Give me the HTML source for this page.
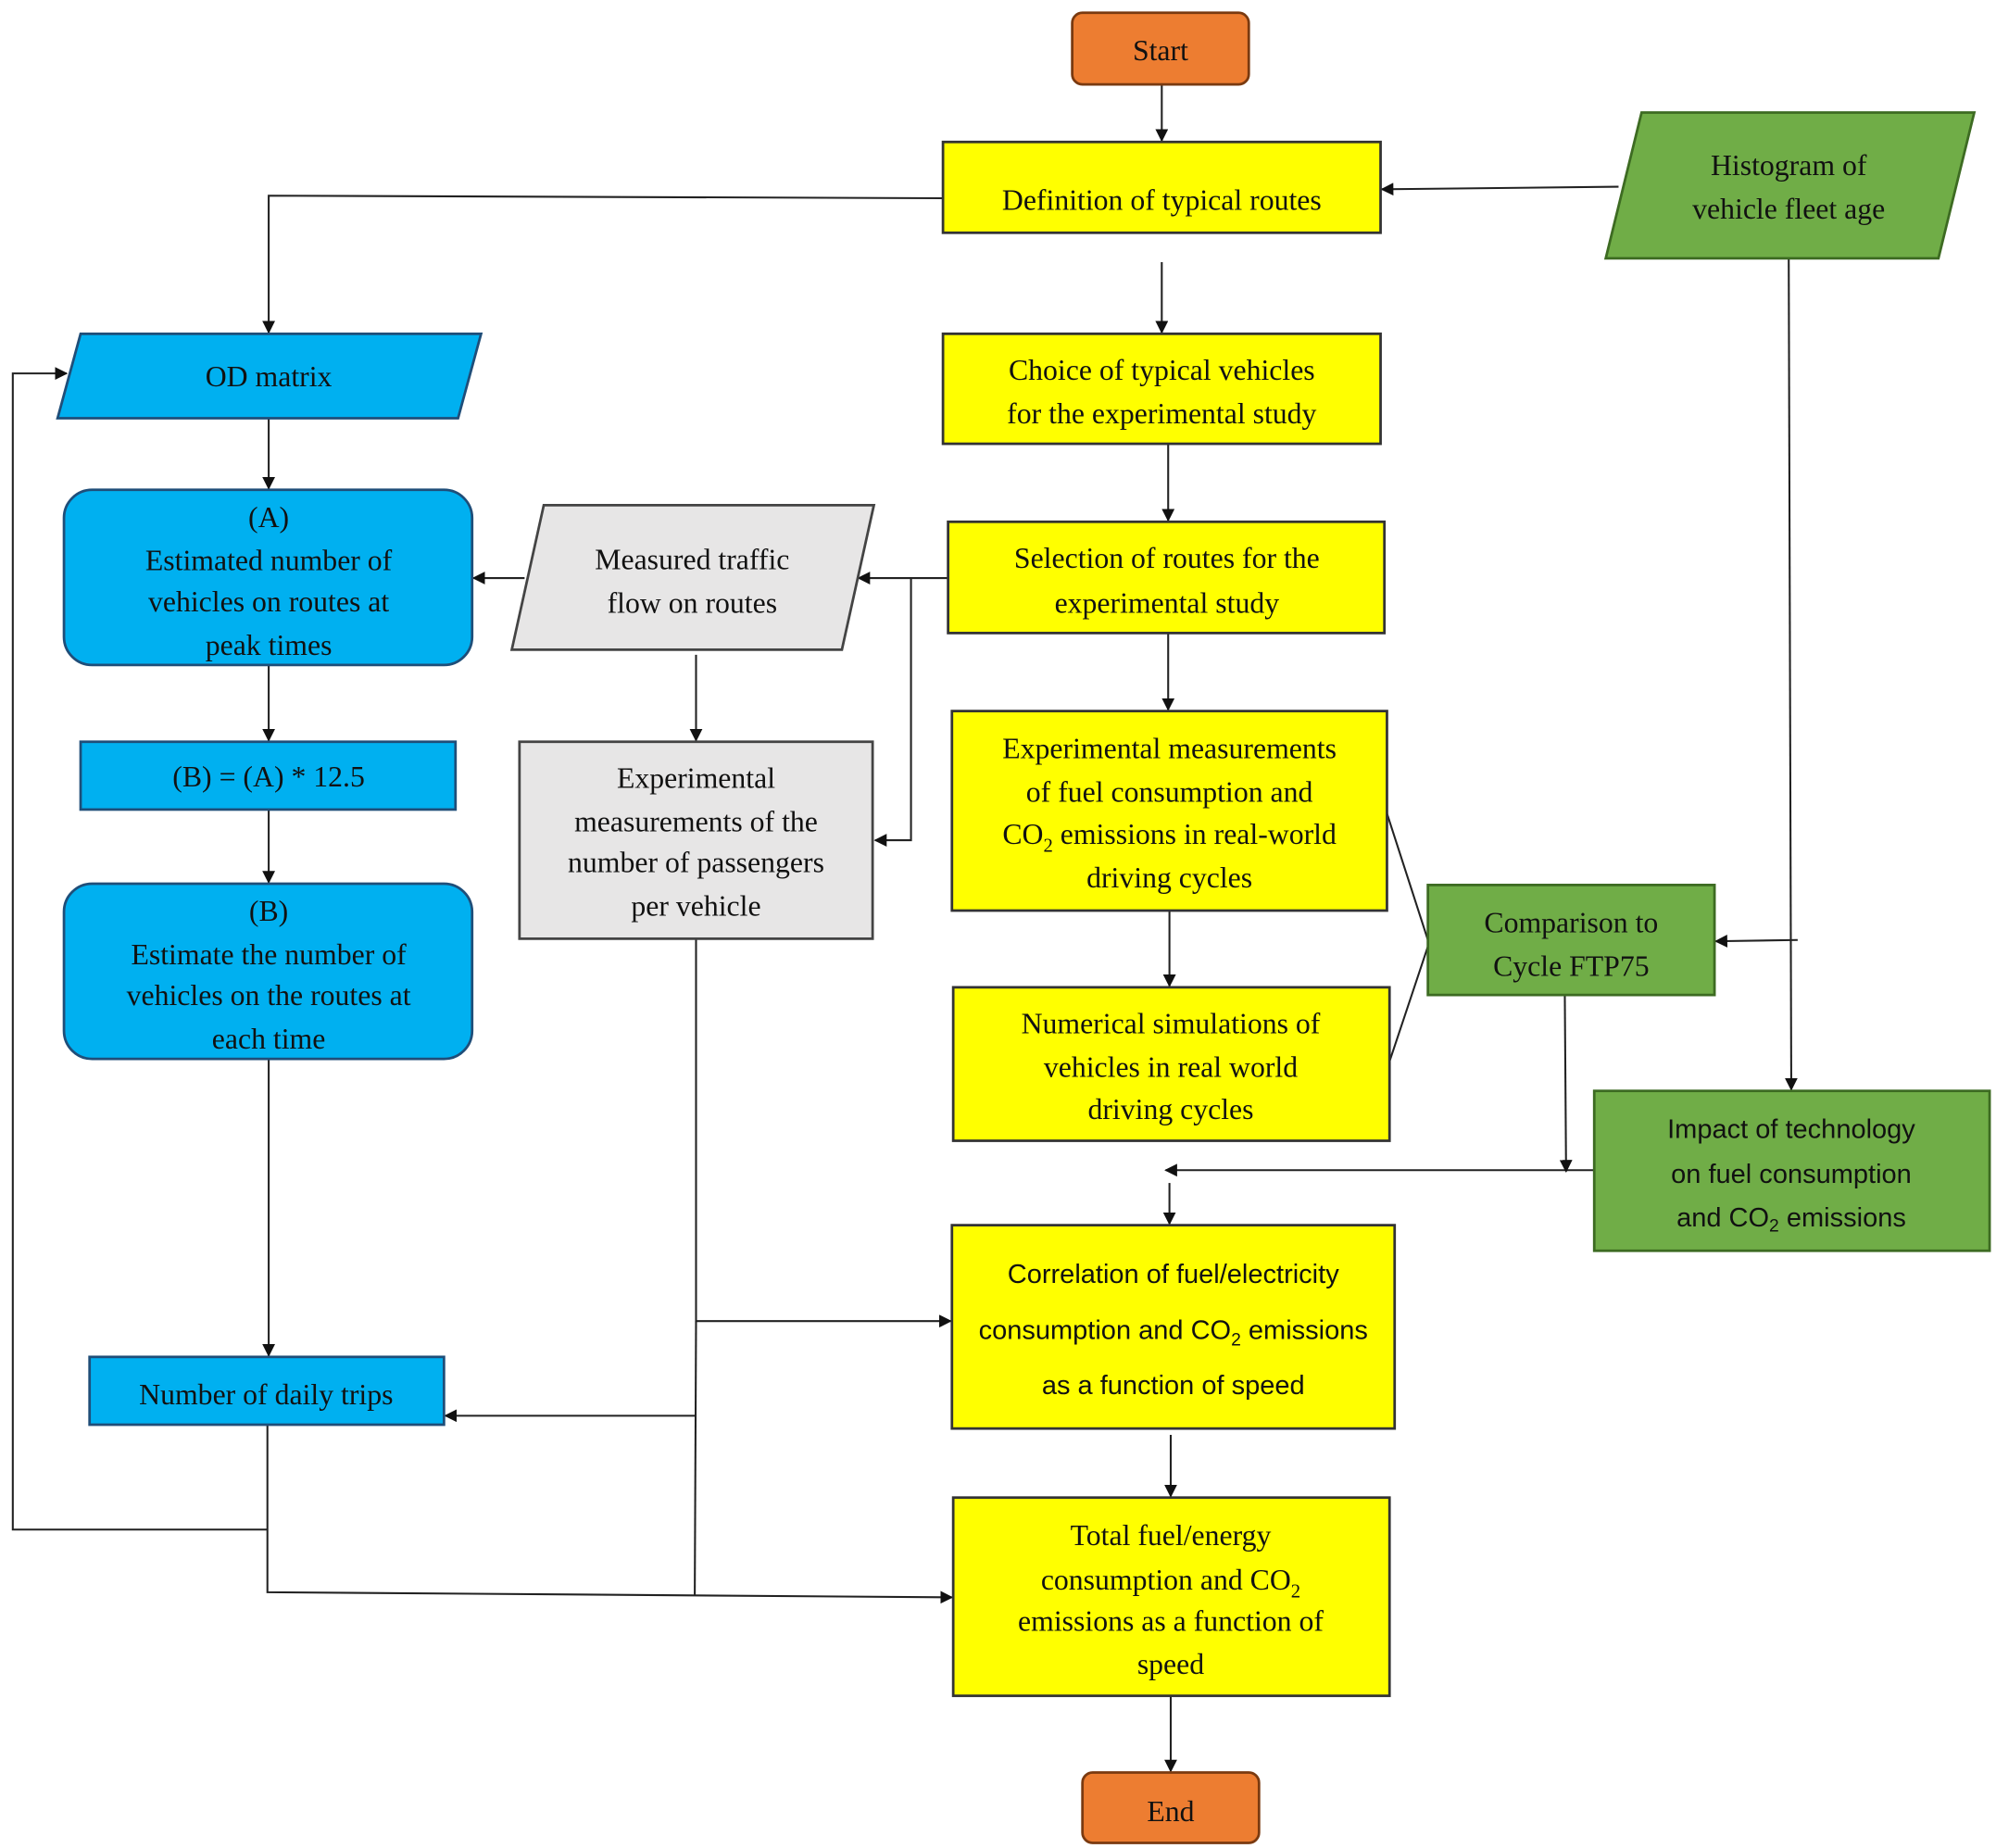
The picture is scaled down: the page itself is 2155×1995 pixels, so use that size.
<!DOCTYPE html>
<html><head><meta charset="utf-8"><style>
html,body{margin:0;padding:0;background:#fff;}
svg{display:block;}
text{font-family:"Liberation Serif",serif;font-size:23px;fill:#111;text-anchor:middle;}
.s{font-family:"Liberation Sans",sans-serif;font-size:21px;}
</style></head><body>
<svg width="2155" height="1995" viewBox="0 0 1560 1445" preserveAspectRatio="none" xmlns="http://www.w3.org/2000/svg">
<defs><marker id="a" markerWidth="10" markerHeight="10" refX="9" refY="5" orient="auto" markerUnits="userSpaceOnUse"><path d="M0,0 L10,5 L0,10 z" fill="#111"/></marker></defs>
<g stroke="#222" stroke-width="1.5" fill="none">
<line x1="908" y1="66" x2="908" y2="110" marker-end="url(#a)"/>
<polyline points="737,155 210,153 210,260" marker-end="url(#a)"/>
<line x1="1265" y1="146" x2="1080" y2="148" marker-end="url(#a)"/>
<line x1="908" y1="205" x2="908" y2="260" marker-end="url(#a)"/>
<line x1="913" y1="347" x2="913" y2="407" marker-end="url(#a)"/>
<line x1="741" y1="452" x2="671" y2="452" marker-end="url(#a)"/>
<polyline points="712,452 712,657 684,657" marker-end="url(#a)"/>
<line x1="410" y1="452" x2="370" y2="452" marker-end="url(#a)"/>
<line x1="544" y1="512" x2="544" y2="579" marker-end="url(#a)"/>
<line x1="913" y1="495" x2="913" y2="555" marker-end="url(#a)"/>
<line x1="914" y1="712" x2="914" y2="771" marker-end="url(#a)"/>
<line x1="1246" y1="915" x2="911" y2="915" marker-end="url(#a)"/>
<line x1="914" y1="925" x2="914" y2="957" marker-end="url(#a)"/>
<line x1="1084" y1="636" x2="1116" y2="735"/>
<line x1="1086" y1="830" x2="1116" y2="740"/>
<line x1="1398" y1="202" x2="1400" y2="852" marker-end="url(#a)"/>
<line x1="1405" y1="735" x2="1341" y2="736" marker-end="url(#a)"/>
<line x1="1223" y1="778" x2="1224" y2="916" marker-end="url(#a)"/>
<line x1="915" y1="1122" x2="915" y2="1170" marker-end="url(#a)"/>
<line x1="915" y1="1326" x2="915" y2="1385" marker-end="url(#a)"/>
<line x1="210" y1="327" x2="210" y2="382" marker-end="url(#a)"/>
<line x1="210" y1="520" x2="210" y2="579" marker-end="url(#a)"/>
<line x1="210" y1="633" x2="210" y2="690" marker-end="url(#a)"/>
<line x1="210" y1="828" x2="210" y2="1060" marker-end="url(#a)"/>
<polyline points="544,734 544,1033 743,1033" marker-end="url(#a)"/>
<polyline points="544,1033 543,1247"/>
<line x1="543" y1="1107" x2="348" y2="1107" marker-end="url(#a)"/>
<polyline points="209,1114 209,1245 744,1249" marker-end="url(#a)"/>
<polyline points="209,1196 10,1196 10,292 52,292" marker-end="url(#a)"/>
</g>
<g stroke="#333" stroke-width="2">
<rect x="838" y="10" width="138" height="56" rx="8" fill="#ED7D31" stroke="#7a3a10"/>
<rect x="846" y="1386" width="138" height="55" rx="8" fill="#ED7D31" stroke="#7a3a10"/>
<rect x="737" y="111" width="342" height="71" fill="#FFFF00"/>
<rect x="737" y="261" width="342" height="86" fill="#FFFF00"/>
<rect x="741" y="408" width="341" height="87" fill="#FFFF00"/>
<rect x="744" y="556" width="340" height="156" fill="#FFFF00"/>
<rect x="745" y="772" width="341" height="120" fill="#FFFF00"/>
<rect x="744" y="958" width="346" height="159" fill="#FFFF00"/>
<rect x="745" y="1171" width="341" height="155" fill="#FFFF00"/>
<polygon points="1283,88 1543,88 1515,202 1255,202" fill="#70AD47" stroke="#3d6b22"/>
<rect x="1116" y="692" width="224" height="86" fill="#70AD47" stroke="#3d6b22"/>
<rect x="1246" y="853" width="309" height="125" fill="#70AD47" stroke="#3d6b22"/>
<polygon points="63,261 376,261 358,327 45,327" fill="#00B0F0" stroke="#1f4e79"/>
<rect x="50" y="383" width="319" height="137" rx="22" fill="#00B0F0" stroke="#1f4e79"/>
<rect x="63" y="580" width="293" height="53" fill="#00B0F0" stroke="#1f4e79"/>
<rect x="50" y="691" width="319" height="137" rx="22" fill="#00B0F0" stroke="#1f4e79"/>
<rect x="70" y="1061" width="277" height="53" fill="#00B0F0" stroke="#1f4e79"/>
<polygon points="425,395 683,395 658,508 400,508" fill="#E7E6E6" stroke="#444"/>
<rect x="406" y="580" width="276" height="154" fill="#E7E6E6" stroke="#444"/>
</g>
<text x="907" y="47">Start</text>
<text x="915" y="1424">End</text>
<text x="908" y="164">Definition of typical routes</text>
<text x="908" y="297">Choice of typical vehicles</text><text x="908" y="331">for the experimental study</text>
<text x="912" y="444">Selection of routes for the</text><text x="912" y="479">experimental study</text>
<text x="914" y="593">Experimental measurements</text><text x="914" y="627">of fuel consumption and</text><text x="914" y="660">CO<tspan font-size="15" dy="6">2</tspan><tspan dy="-6"> emissions in real-world</tspan></text><text x="914" y="694">driving cycles</text>
<text x="915" y="808">Numerical simulations of</text><text x="915" y="842">vehicles in real world</text><text x="915" y="875">driving cycles</text>
<text class="s" x="917" y="1003">Correlation of fuel/electricity</text><text class="s" x="917" y="1047">consumption and CO<tspan font-size="14" dy="5">2</tspan><tspan dy="-5"> emissions</tspan></text><text class="s" x="917" y="1090">as a function of speed</text>
<text x="915" y="1208">Total fuel/energy</text><text x="915" y="1243">consumption and CO<tspan font-size="15" dy="6">2</tspan></text><text x="915" y="1275">emissions as a function of</text><text x="915" y="1309">speed</text>
<text x="1398" y="137">Histogram of</text><text x="1398" y="171">vehicle fleet age</text>
<text x="1228" y="729">Comparison to</text><text x="1228" y="763">Cycle FTP75</text>
<text class="s" x="1400" y="890">Impact of technology</text><text class="s" x="1400" y="925">on fuel consumption</text><text class="s" x="1400" y="959">and CO<tspan font-size="14" dy="4">2</tspan><tspan dy="-4"> emissions</tspan></text>
<text x="210" y="302">OD matrix</text>
<text x="210" y="412">(A)</text><text x="210" y="446">Estimated number of</text><text x="210" y="478">vehicles on routes at</text><text x="210" y="512">peak times</text>
<text x="210" y="615">(B) = (A) * 12.5</text>
<text x="210" y="720">(B)</text><text x="210" y="754">Estimate the number of</text><text x="210" y="786">vehicles on the routes at</text><text x="210" y="820">each time</text>
<text x="208" y="1098">Number of daily trips</text>
<text x="541" y="445">Measured traffic</text><text x="541" y="479">flow on routes</text>
<text x="544" y="616">Experimental</text><text x="544" y="650">measurements of the</text><text x="544" y="682">number of passengers</text><text x="544" y="716">per vehicle</text>
</svg>
</body></html>
